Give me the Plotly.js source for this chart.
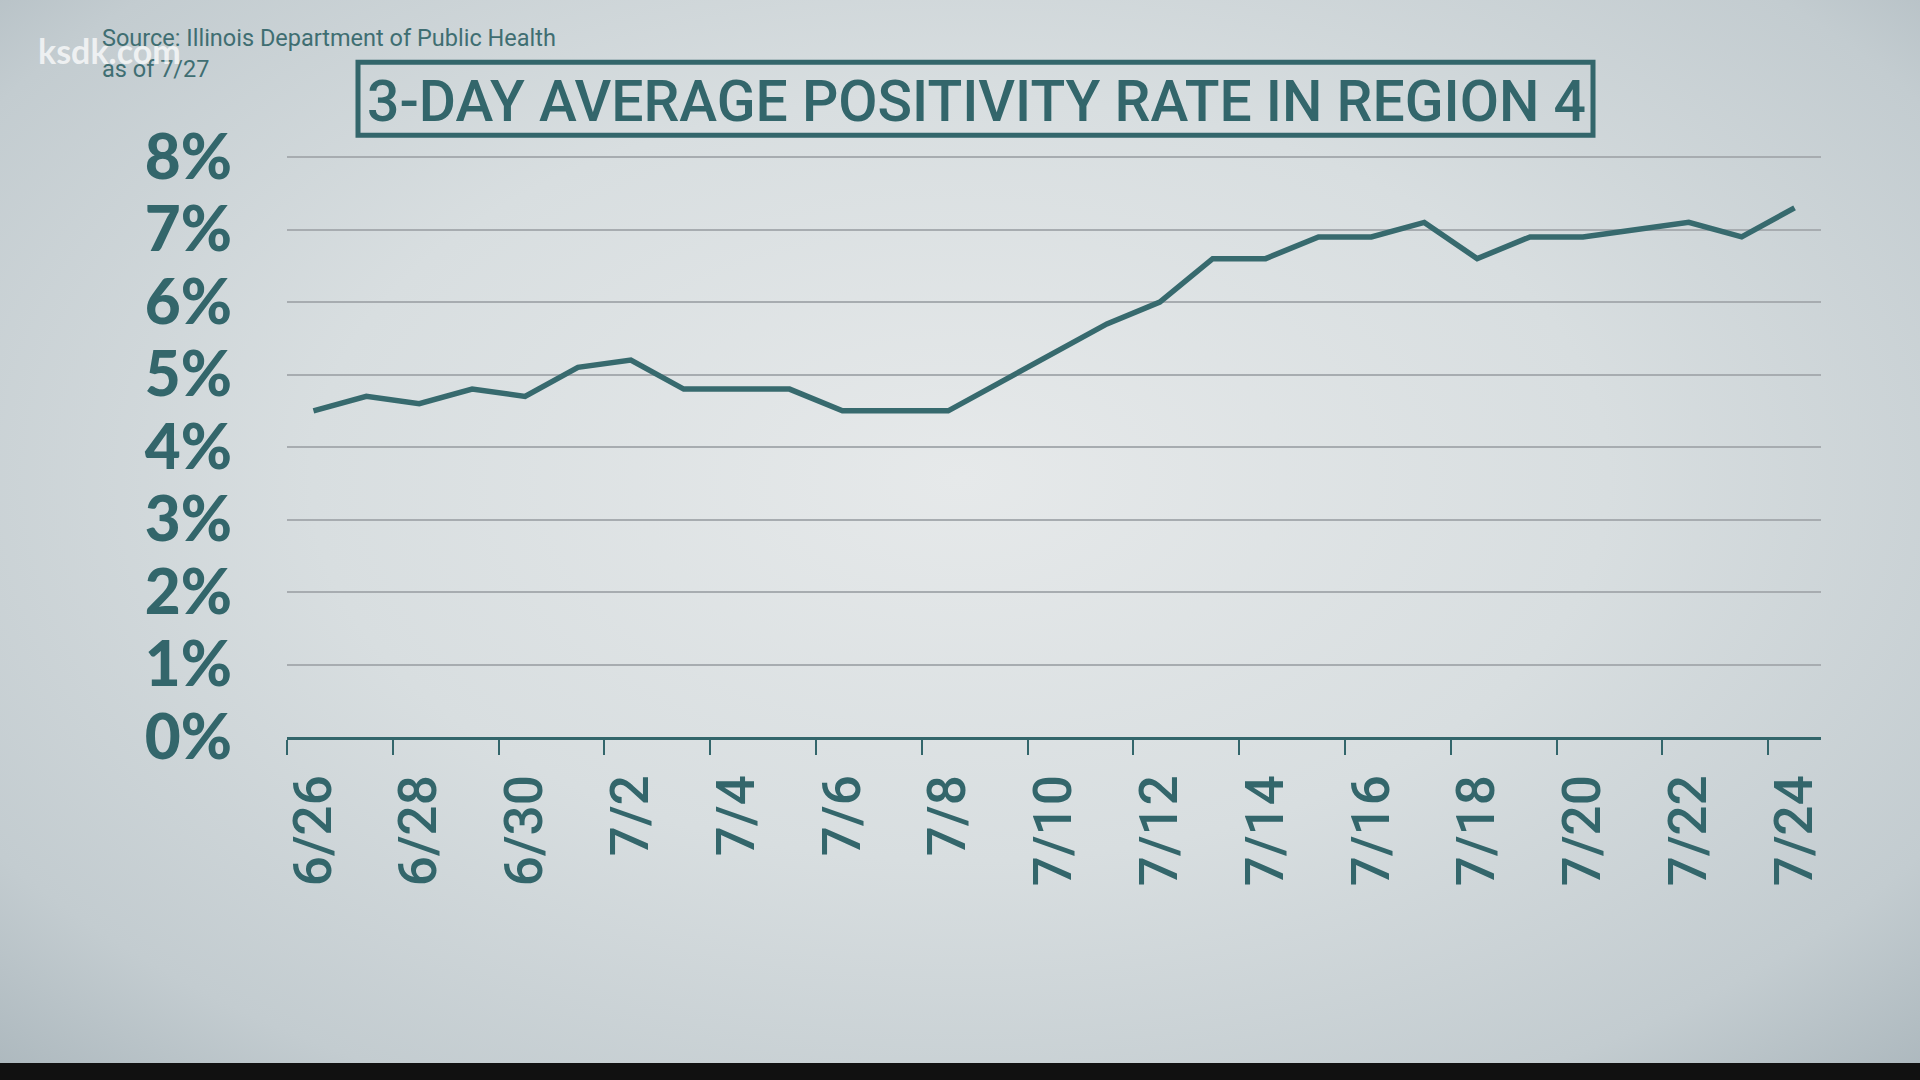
<!DOCTYPE html>
<html>
<head>
<meta charset="utf-8">
<script src="https://cdn.plot.ly/plotly-3.0.1.min.js"></script>
<style>
  html, body { margin: 0; padding: 0; width: 1920px; height: 1080px; overflow: hidden; background: #111; }
  #bg { position: absolute; left: 0; top: 0; width: 1920px; height: 1063px;
        background: radial-gradient(ellipse 75% 80% at 50% 45%, #e6e9ea 0%, #d8dee0 45%, #c3ccd0 80%, #a8b4ba 100%); }
  #chart { position: absolute; left: 0; top: 0; width: 1920px; height: 1080px; }
</style>
</head>
<body>
<div id="bg"></div>
<div id="chart"></div>
<script>
// ---- data ----
const dates = ['6/26','6/27','6/28','6/29','6/30','7/1','7/2','7/3','7/4','7/5','7/6','7/7','7/8','7/9','7/10',
               '7/11','7/12','7/13','7/14','7/15','7/16','7/17','7/18','7/19','7/20','7/21','7/22','7/23','7/24'];
const rate = [4.5, 4.7, 4.6, 4.8, 4.7, 5.1, 5.2, 4.8, 4.8, 4.8, 4.5, 4.5, 4.5, 4.9, 5.3,
              5.7, 6.0, 6.6, 6.6, 6.9, 6.9, 7.1, 6.6, 6.9, 6.9, 7.0, 7.1, 6.9, 7.3];
const yTicks = [0, 1, 2, 3, 4, 5, 6, 7, 8];
const titleText = '3-DAY AVERAGE POSITIVITY RATE IN REGION 4';
const sourceText = 'Source: Illinois Department of Public Health<br>as of 7/27';
const watermark = 'ksdk.com';

// ---- layout helpers ----
const W = 1920, H = 1080;
const yTop = 8.03;                       // a little headroom so the 8% gridline is drawn
const L = 287, R = 99, B = 343;
const T = H - B - 580 * yTop / 8;        // keeps 0%..8% spanning 580 px
const pw = W - L - R, ph = H - T - B;
const px = x => (x - L) / pw;
const py = y => 1 - (y - T) / ph;
const teal = '#33666b';

const idx = dates.map((d, i) => i);
const labelIdx = idx.filter(i => i % 2 === 0);

const trace = {
  x: idx, y: rate, text: dates, type: 'scatter', mode: 'lines',
  line: { color: '#376a6e', width: 5.5 },
  hovertemplate: '%{text}: %{y}%<extra></extra>'
};

const layout = {
  width: W, height: H,
  paper_bgcolor: 'rgba(0,0,0,0)', plot_bgcolor: 'rgba(0,0,0,0)',
  margin: { l: L, r: R, t: T, b: B, pad: 0 },
  showlegend: false,
  xaxis: {
    type: 'linear', range: [-0.5, dates.length - 0.5],
    tickmode: 'array', tickvals: labelIdx, ticktext: labelIdx.map(i => dates[i]),
    tickangle: -90, ticks: '', ticklabelstandoff: 14,
    tickfont: { family: 'Roboto', size: 53, color: teal, weight: 500 },
    showgrid: false, zeroline: false,
    showline: true, linecolor: teal, linewidth: 3,
    minor: { tickmode: 'linear', tick0: -0.5, dtick: 2, ticks: 'outside', ticklen: 15, tickwidth: 2, tickcolor: teal, showgrid: false }
  },
  yaxis: {
    range: [0, yTop], tickmode: 'array', tickvals: yTicks, ticktext: yTicks.map(v => v + '%'),
    ticks: '', ticklabelstandoff: 54,
    tickfont: { family: 'Lato', size: 62, color: teal, weight: 900 },
    showgrid: true, gridcolor: '#a7acb0', gridwidth: 2,
    zeroline: false, showline: false
  },
  shapes: [{
    type: 'rect', xref: 'paper', yref: 'paper',
    x0: px(358), x1: px(1593), y0: py(62), y1: py(135),
    line: { color: teal, width: 5 }, fillcolor: 'rgba(0,0,0,0)'
  }],
  annotations: [
    { text: titleText, xref: 'paper', yref: 'paper', x: px(976), y: py(101),
      xanchor: 'center', yanchor: 'middle', showarrow: false,
      font: { family: 'Roboto', size: 57, color: teal, weight: 500 } },
    { text: sourceText, xref: 'paper', yref: 'paper', x: px(100), y: py(22),
      xanchor: 'left', yanchor: 'top', align: 'left', showarrow: false,
      font: { family: 'Roboto', size: 23.5, color: '#3f6e72' } },
    { text: watermark, xref: 'paper', yref: 'paper', x: px(36), y: py(50),
      xanchor: 'left', yanchor: 'middle', showarrow: false,
      font: { family: 'Lato', size: 34, color: 'rgba(255,255,255,0.72)', weight: 700 } }
  ]
};

Plotly.newPlot('chart', [trace], layout, { displayModeBar: false, staticPlot: true });
</script>
</body>
</html>
